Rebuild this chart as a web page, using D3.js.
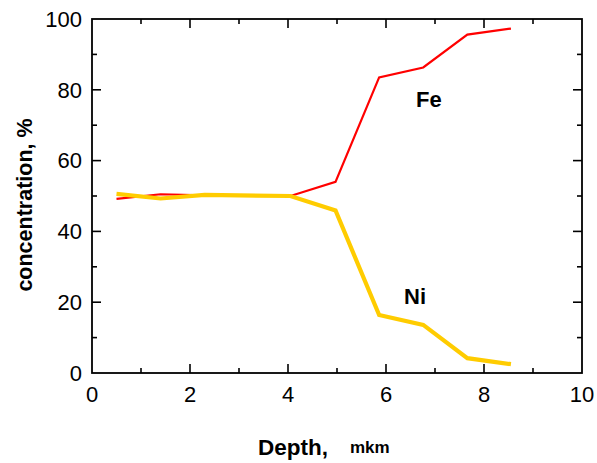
<!DOCTYPE html>
<html>
<head>
<meta charset="utf-8">
<script src="https://cdn.jsdelivr.net/npm/d3@7"></script>
<style>
  html, body { margin: 0; padding: 0; background: #fff; }
  svg { display: block; font-family: "Liberation Sans", Arial, sans-serif; }
</style>
</head>
<body>
<svg id="chart" width="597" height="463"></svg>
<script>
// Depth profile of Fe and Ni concentration
const depth = [0.5, 1.4, 2.3, 4.05, 4.97, 5.86, 6.76, 7.66, 8.55];
const fe    = [49.2, 50.5, 50.2, 50.0, 54.0, 83.5, 86.3, 95.6, 97.3];
const ni    = [50.6, 49.3, 50.3, 50.0, 45.9, 16.4, 13.6, 4.2, 2.5];
const xTicks = [0, 2, 4, 6, 8, 10];
const yTicks = [0, 20, 40, 60, 80, 100];

const svg = d3.select("#chart");
const x = d3.scaleLinear().domain([0, 10]).range([92, 582]);
const y = d3.scaleLinear().domain([0, 100]).range([373, 19]);

const frame = svg.append("g");

// Inward ticks on all four sides: majors with labels, unlabeled minors between
const xMinor = d3.range(1, 10, 2);
const yMinor = d3.range(10, 100, 20);

function ticks(g, scale, axis, values, len) {
  g.selectAll(null).data(values).join("line")
    .attr("stroke", "#000").attr("stroke-width", 1.6)
    .each(function (d) {
      const s = d3.select(this);
      if (axis === "bottom") s.attr("x1", scale(d)).attr("x2", scale(d)).attr("y1", y(0)).attr("y2", y(0) - len);
      if (axis === "top") s.attr("x1", scale(d)).attr("x2", scale(d)).attr("y1", y(100)).attr("y2", y(100) + len);
      if (axis === "left") s.attr("y1", scale(d)).attr("y2", scale(d)).attr("x1", x(0)).attr("x2", x(0) + len);
      if (axis === "right") s.attr("y1", scale(d)).attr("y2", scale(d)).attr("x1", x(10)).attr("x2", x(10) - len);
    });
}
["bottom", "top"].forEach(a => {
  ticks(frame, x, a, xTicks.slice(1, -1), 9);
  ticks(frame, x, a, xMinor, 5);
});
["left", "right"].forEach(a => {
  ticks(frame, y, a, yTicks.slice(1, -1), 9);
  ticks(frame, y, a, yMinor, 5);
});

frame.append("rect")
  .attr("x", x(0)).attr("y", y(100))
  .attr("width", x(10) - x(0)).attr("height", y(0) - y(100))
  .attr("fill", "none").attr("stroke", "#000").attr("stroke-width", 1.8);

// Tick labels
svg.append("g").selectAll("text").data(xTicks).join("text")
  .attr("x", d => x(d)).attr("y", y(0) + 29)
  .attr("text-anchor", "middle").attr("font-size", 22)
  .text(d => d);
svg.append("g").selectAll("text").data(yTicks).join("text")
  .attr("x", x(0) - 10).attr("y", d => y(d) + 7.8)
  .attr("text-anchor", "end").attr("font-size", 22)
  .text(d => d);

// Series
const line = v => d3.line().x((d, i) => x(depth[i])).y(d => y(d))(v);
svg.append("path").attr("d", line(fe))
  .attr("fill", "none").attr("stroke", "#ff0000").attr("stroke-width", 2.2)
  .attr("stroke-linejoin", "miter");
svg.append("path").attr("d", line(ni))
  .attr("fill", "none").attr("stroke", "#ffcc00").attr("stroke-width", 4.2)
  .attr("stroke-linejoin", "miter");

// Series names
svg.append("text").attr("x", 416).attr("y", 107)
  .attr("font-size", 22).attr("font-weight", "bold").text("Fe");
svg.append("text").attr("x", 404).attr("y", 304)
  .attr("font-size", 22).attr("font-weight", "bold").text("Ni");

// Axis titles
svg.append("text").attr("x", 258).attr("y", 455)
  .attr("font-size", 22.5).attr("font-weight", "bold").text("Depth,");
svg.append("text").attr("x", 350).attr("y", 453)
  .attr("font-size", 17).attr("font-weight", "bold").text("mkm");
svg.append("text")
  .attr("transform", "translate(32,205) rotate(-90)")
  .attr("text-anchor", "middle")
  .attr("font-size", 21.5).attr("font-weight", "bold")
  .text("concentration, %");
</script>
</body>
</html>
